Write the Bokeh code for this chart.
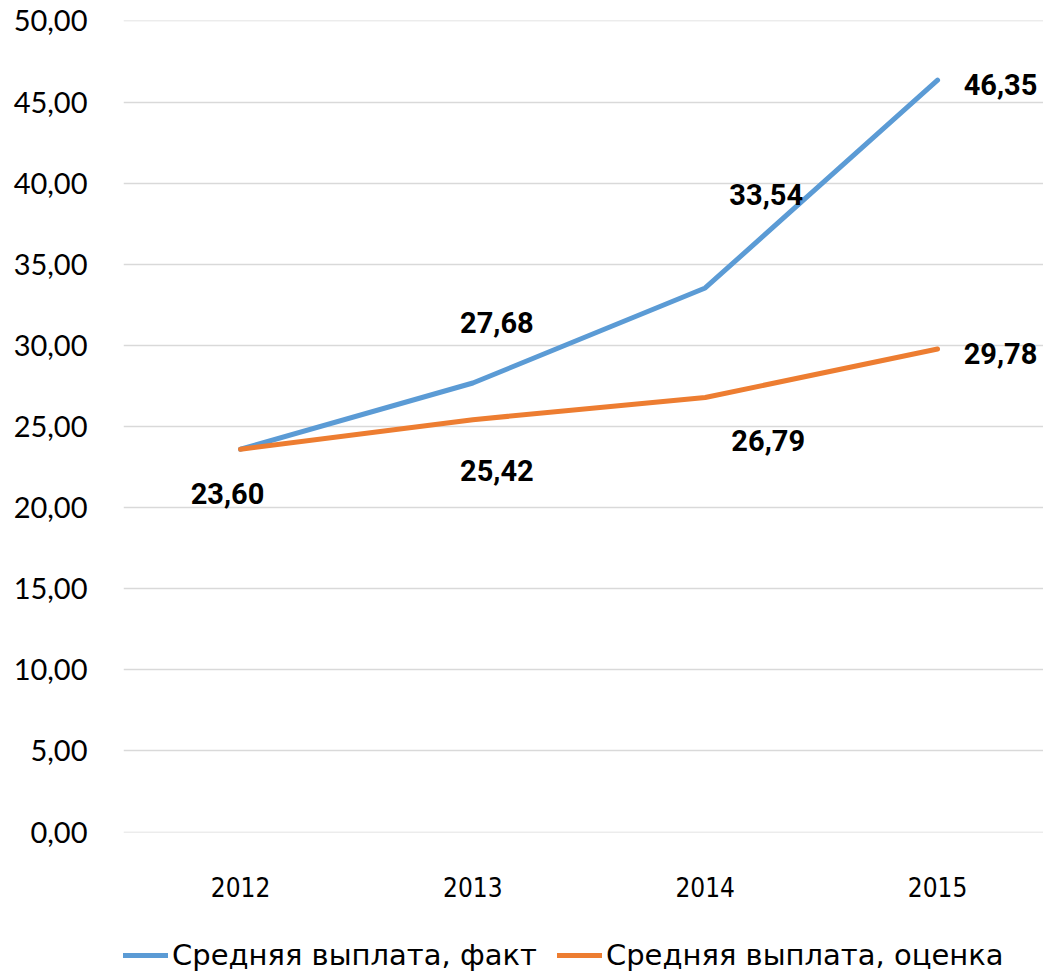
from bokeh.plotting import figure
from bokeh.layouts import column
from bokeh.models import ColumnDataSource, FixedTicker, Legend, LegendItem, Range1d
from bokeh.core.properties import value
from bokeh.embed import file_html
from bokeh.resources import INLINE

years = ["2012", "2013", "2014", "2015"]
fact = [23.60, 27.68, 33.54, 46.35]
estimate = [23.60, 25.42, 26.79, 29.78]
y_ticks = [0, 5, 10, 15, 20, 25, 30, 35, 40, 45, 50]
y_tick_labels = ["0,00", "5,00", "10,00", "15,00", "20,00", "25,00",
                 "30,00", "35,00", "40,00", "45,00", "50,00"]
name_fact = "Средняя выплата, факт"
name_est = "Средняя выплата, оценка"

BLUE = "#5B9BD5"
ORANGE = "#ED7D31"
GRID = "#D9D9D9"

xs = list(range(len(years)))

p = figure(width=1043, height=920, output_backend="svg", toolbar_location=None,
           x_range=Range1d(-0.5036, 3.456), y_range=Range1d(-0.03, 50.03),
           min_border_left=123, min_border_right=0, min_border_top=20,
           min_border_bottom=88)
p.outline_line_color = None
p.background_fill_color = "white"
p.border_fill_color = "white"

# axes
p.xaxis.ticker = FixedTicker(ticks=xs)
p.xaxis.major_label_overrides = {i: y for i, y in enumerate(years)}
p.xaxis.axis_line_color = None
p.xaxis.major_tick_line_color = None
p.xaxis.minor_tick_line_color = None
p.xaxis.major_label_text_font = "DejaVu Sans Condensed, DejaVu Sans"
p.xaxis.major_label_text_font_size = "26px"
p.xaxis.major_label_text_color = "#000000"
p.xaxis.major_label_standoff = 38

p.yaxis.ticker = FixedTicker(ticks=y_ticks)
p.yaxis.major_label_overrides = {t: l for t, l in zip(y_ticks, y_tick_labels)}
p.yaxis.axis_line_color = None
p.yaxis.major_tick_line_color = None
p.yaxis.minor_tick_line_color = None
p.yaxis.major_label_text_font = "Lato"
p.yaxis.major_label_text_font_size = "29px"
p.yaxis.major_label_text_color = "#000000"
p.yaxis.major_label_standoff = 30

p.xgrid.grid_line_color = None
p.ygrid.ticker = FixedTicker(ticks=y_ticks)
p.ygrid.grid_line_color = GRID
p.ygrid.grid_line_width = 1.5

src_f = ColumnDataSource(dict(x=xs, y=fact))
src_e = ColumnDataSource(dict(x=xs, y=estimate))
r_f = p.line("x", "y", source=src_f, line_color=BLUE, line_width=5, line_cap="round", line_join="round")
r_e = p.line("x", "y", source=src_e, line_color=ORANGE, line_width=5, line_cap="round", line_join="round")

# data labels (label placement offsets in screen px)
fact_dx = [0, 24, 61, 63]
fact_dy = [0, -61, -93, 4]
est_dx = [-13, 24, 63, 63]
est_dy = [44, 51, 43, 5]

def fmt(v):
    return f"{v:.2f}".replace(".", ",")

lab_f = ColumnDataSource(dict(x=xs[1:], y=fact[1:], t=[fmt(v) for v in fact[1:]],
                              dx=fact_dx[1:], dy=fact_dy[1:]))
lab_e = ColumnDataSource(dict(x=xs, y=estimate, t=[fmt(v) for v in estimate],
                              dx=est_dx, dy=est_dy))
for s in (lab_f, lab_e):
    p.text("x", "y", text="t", x_offset="dx", y_offset="dy", source=s,
           text_font=value("Roboto"), text_font_style="bold", text_font_size="29px",
           text_color="#000000", text_align="center", text_baseline="middle")

# legend strip below the chart (its view range excludes the data, so only the legend shows)
pl = figure(width=1043, height=54, output_backend="svg", toolbar_location=None,
            x_axis_type=None, y_axis_type=None,
            x_range=Range1d(100, 101), y_range=Range1d(100, 101), min_border=0)
pl.outline_line_color = None
pl.xgrid.grid_line_color = None
pl.ygrid.grid_line_color = None
lf = pl.line("x", "y", source=src_f, line_color=BLUE, line_width=5, line_cap="round")
le = pl.line("x", "y", source=src_e, line_color=ORANGE, line_width=5, line_cap="round")
legend = Legend(items=[LegendItem(label=name_fact, renderers=[lf]),
                       LegendItem(label=name_est, renderers=[le])],
                orientation="horizontal", location=(0, 2),
                label_text_font="DejaVu Sans", label_text_font_size="29px",
                label_text_color="#000000", label_height=30,
                glyph_width=45, glyph_height=30, label_standoff=4, spacing=20,
                padding=0, margin=0, border_line_color=None,
                background_fill_alpha=0)
pl.add_layout(legend, "center")

layout = column(p, pl, spacing=0)
open("out.html", "w").write(file_html(layout, INLINE))
